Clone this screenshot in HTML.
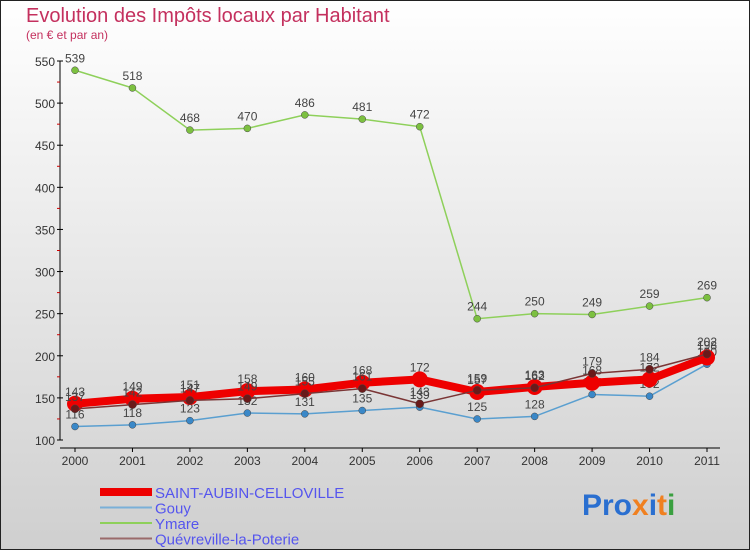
<!DOCTYPE html>
<html><head><meta charset="utf-8"><style>
body{margin:0;}
#wrap{width:750px;height:550px;position:relative;overflow:hidden;background:linear-gradient(#ffffff,#cfcfcf);font-family:"Liberation Sans",sans-serif;}
svg{position:absolute;left:0;top:0;}
</style></head><body>
<div id="wrap">
<svg id="chart" width="750" height="550">
<rect x="0.5" y="0.5" width="749" height="549" fill="none" stroke="#222" stroke-width="1"/>
<text x="26" y="22" font-size="20" fill="#c4305e">Evolution des Impôts locaux par Habitant</text>
<text x="26" y="39" font-size="12" fill="#c4305e">(en € et par an)</text>
<g id="axes"></g><g id="series"></g><g id="legend"></g>
<text x="582" y="515" font-size="30" font-weight="bold"><tspan fill="#2a6fd0">Pro</tspan><tspan fill="#f08020">x</tspan><tspan fill="#2a6fd0">i</tspan><tspan fill="#f08020">t</tspan><tspan fill="#3aa040">i</tspan></text>
</svg>
</div>
<script>
const years=["2000","2001","2002","2003","2004","2005","2006","2007","2008","2009","2010","2011"];
const yTicks=[100,150,200,250,300,350,400,450,500,550];
const saintAubin=[143,149,151,158,160,168,172,157,163,168,172,198];
const gouy=[116,118,123,132,131,135,139,125,128,154,152,190];
const ymare=[539,518,468,470,486,481,472,244,250,249,259,269];
const quevreville=[137,142,147,149,155,161,143,159,162,179,184,202];
const seriesNames=["SAINT-AUBIN-CELLOVILLE","Gouy","Ymare","Quévreville-la-Poterie"];
const NS="http://www.w3.org/2000/svg";
const xS=i=>75+i*(707-75)/11;
const yS=v=>440-(v-100)*(440-61)/450;
function mk(t,a,p){const e=document.createElementNS(NS,t);for(const k in a)e.setAttribute(k,a[k]);p.appendChild(e);return e;}
const axes=document.getElementById('axes');
const ax=mk('line',{x1:60,y1:61,x2:60,y2:440,stroke:'#000'},axes);


const bx=mk('line',{x1:60,y1:448,x2:720,y2:448,stroke:'#000'},axes);


yTicks.forEach(v=>{
 const t=mk('text',{x:55,y:yS(v)+5,'font-size':12,fill:'#333','text-anchor':'end'},axes);t.textContent=v;
 
 
 mk('line',{x1:57,y1:yS(v),x2:63,y2:yS(v),stroke:'#000'},axes);
 if(v<550) mk('line',{x1:57,y1:yS(v+25),x2:60,y2:yS(v+25),stroke:'#c00'},axes);
});
years.forEach((y,i)=>{
 mk('line',{x1:xS(i),y1:448,x2:xS(i),y2:452,stroke:'#000'},axes);
 const t=mk('text',{x:xS(i),y:465,'font-size':12,fill:'#333','text-anchor':'middle'},axes);t.textContent=y;
 
 
});
const ser=document.getElementById('series');
const defs=[[ymare,'#8ed05a','#7cc040',1.5,3.5,'ymare'],[gouy,'#5a9fd0','#3a88c8',1.5,3.5,'gouy'],[saintAubin,'#ee0000','#ee0000',8,8,'saint-aubin'],[quevreville,'#7a3535','#6a1a1a',1.5,4,'quevreville']];
defs.forEach(([d,lc,pc,w,r,n])=>{
 const p=mk('polyline',{points:d.map((v,i)=>xS(i)+','+yS(v)).join(' '),fill:'none',stroke:lc,'stroke-width':w},ser);
 
 
 d.forEach((v,i)=>{
  const c=mk('circle',{cx:xS(i),cy:yS(v),r:r,fill:pc,stroke:n==='saint-aubin'?'none':'#444','stroke-width':0.5},ser);
  
  
  const t=mk('text',{x:xS(i),y:yS(v)+(n==='gouy'?-8:-8),'font-size':12,fill:'#444','text-anchor':'middle'},ser);
  t.textContent=v;
  
  
 });
});
const leg=document.getElementById('legend');
const lc=[['#ee0000',8],['#7ab0d8',2],['#8ed05a',2],['#9a6a6a',2]];
seriesNames.forEach((s,i)=>{
 const y=492+i*15.5;
 mk('line',{x1:100,y1:y,x2:152,y2:y,stroke:lc[i][0],'stroke-width':lc[i][1]},leg);
 const t=mk('text',{x:155,y:y+6,'font-size':15,fill:'#5555ee'},leg);t.textContent=s;
 
 
});
</script>
</body></html>
